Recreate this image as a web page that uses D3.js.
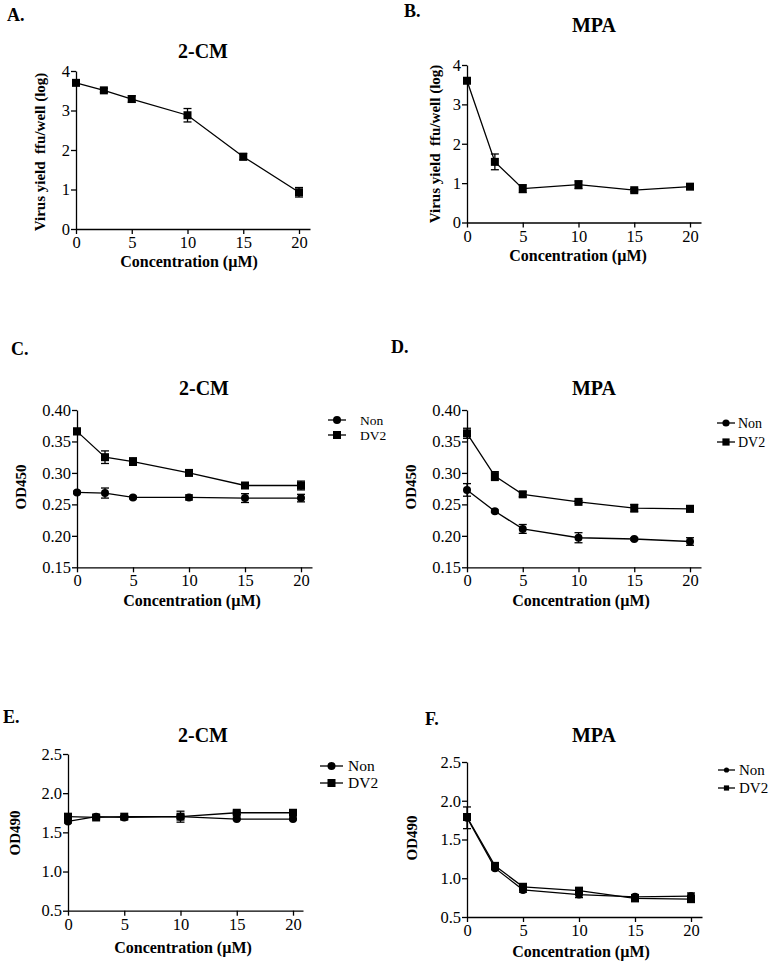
<!DOCTYPE html>
<html><head><meta charset="utf-8">
<script src="https://cdn.jsdelivr.net/npm/d3@7/dist/d3.min.js"></script>
<style>body{margin:0;background:#fff}svg{display:block}text{font-family:"Liberation Serif","Times New Roman",serif;fill:#000}</style>
</head><body><div id="chart"></div>
<script>
// ---------- data ----------
const conc = [0, 2.5, 5, 10, 15, 20];
const xTicks = [0, 5, 10, 15, 20];
const seriesNames = ["Non", "DV2"];

// A. 2-CM virus yield
const yieldCM = [3.70, 3.51, 3.29, 2.88, 1.83, 0.93];
const yieldCMErr = [0.05, 0.05, 0.08, 0.17, 0.08, 0.12];
// B. MPA virus yield
const yieldMPA = [3.60, 1.54, 0.86, 0.96, 0.82, 0.91];
const yieldMPAErr = [0.04, 0.20, 0.10, 0.10, 0.04, 0.05];
const yieldTicks = [0, 1, 2, 3, 4];

// C. 2-CM OD450
const od450CMNon = [0.269, 0.268, 0.261, 0.261, 0.260, 0.260];
const od450CMNonErr = [0.002, 0.008, 0.002, 0.004, 0.007, 0.006];
const od450CMDV2 = [0.366, 0.325, 0.318, 0.300, 0.280, 0.280];
const od450CMDV2Err = [0.005, 0.010, 0.006, 0.002, 0.003, 0.007];
// D. MPA OD450
const od450MPANon = [0.273, 0.239, 0.211, 0.197, 0.195, 0.191];
const od450MPANonErr = [0.010, 0.002, 0.007, 0.008, 0.002, 0.006];
const od450MPADV2 = [0.363, 0.295, 0.266, 0.254, 0.244, 0.243];
const od450MPADV2Err = [0.008, 0.007, 0.004, 0.002, 0.006, 0.005];
const od450Ticks = [0.15, 0.20, 0.25, 0.30, 0.35, 0.40];

// E. 2-CM OD490
const od490CMNon = [1.64, 1.70, 1.69, 1.70, 1.67, 1.67];
const od490CMNonErr = [0.02, 0.02, 0.02, 0.02, 0.01, 0.01];
const od490CMDV2 = [1.70, 1.69, 1.70, 1.70, 1.75, 1.75];
const od490CMDV2Err = [0.03, 0.02, 0.01, 0.07, 0.02, 0.02];
// F. MPA OD490
const od490MPANon = [1.78, 1.13, 0.85, 0.79, 0.76, 0.77];
const od490MPANonErr = [0.14, 0.02, 0.03, 0.04, 0.03, 0.04];
const od490MPADV2 = [1.79, 1.16, 0.89, 0.84, 0.74, 0.73];
const od490MPADV2Err = [0.04, 0.03, 0.02, 0.02, 0.02, 0.02];
const od490Ticks = [0.5, 1.0, 1.5, 2.0, 2.5];

const W = 777, H = 966;
const svg = d3.select("#chart").append("svg").attr("width", W).attr("height", H);

const panels = [
  {letter:"A.", lx:7, ly:21, title:"2-CM", tx:203, ty:58,
   x0:76, x20:299, xEnd:310, yTop:71, yBot:229, yDomain:[0,4], yTicks:yieldTicks, fmt:d3.format("d"),
   yLabel:"Virus yield  ffu/well (log)", ylx:45, yly:152, xlx:189, xly:267,
   series:[{v:yieldCM, e:yieldCMErr, shape:"square"}], legend:null},
  {letter:"B.", lx:404, ly:17, title:"MPA", tx:594, ty:32,
   x0:467, x20:690, xEnd:701, yTop:65, yBot:222.5, yDomain:[0,4], yTicks:yieldTicks, fmt:d3.format("d"),
   yLabel:"Virus yield  ffu/well (log)", ylx:440, yly:144, xlx:578, xly:261,
   series:[{v:yieldMPA, e:yieldMPAErr, shape:"square"}], legend:null},
  {letter:"C.", lx:11, ly:355, title:"2-CM", tx:204, ty:395,
   x0:77, x20:301, xEnd:312, yTop:410, yBot:567.3, yDomain:[0.15,0.40], yTicks:od450Ticks, fmt:d3.format(".2f"),
   yLabel:"OD450", ylx:26, yly:487, xlx:192, xly:606,
   series:[{v:od450CMNon, e:od450CMNonErr, shape:"circle", name:seriesNames[0]},
           {v:od450CMDV2, e:od450CMDV2Err, shape:"square", name:seriesNames[1]}],
   legend:{x1:328, x2:346, tx:360, y:[420, 435], ms:1, fs:13.5}},
  {letter:"D.", lx:391, ly:353, title:"MPA", tx:594, ty:395,
   x0:467, x20:690, xEnd:701, yTop:410, yBot:567.3, yDomain:[0.15,0.40], yTicks:od450Ticks, fmt:d3.format(".2f"),
   yLabel:"OD450", ylx:416, yly:487, xlx:581, xly:606,
   series:[{v:od450MPANon, e:od450MPANonErr, shape:"circle", name:seriesNames[0]},
           {v:od450MPADV2, e:od450MPADV2Err, shape:"square", name:seriesNames[1]}],
   legend:{x1:717, x2:735, tx:738, y:[423, 442], ms:0.9, fs:14}},
  {letter:"E.", lx:3, ly:723, title:"2-CM", tx:203, ty:742,
   x0:68, x20:293, xEnd:303, yTop:754, yBot:910.7, yDomain:[0.5,2.5], yTicks:od490Ticks, fmt:d3.format(".1f"),
   yLabel:"OD490", ylx:20, yly:833, xlx:183, xly:953,
   series:[{v:od490CMNon, e:od490CMNonErr, shape:"circle", name:seriesNames[0]},
           {v:od490CMDV2, e:od490CMDV2Err, shape:"square", name:seriesNames[1]}],
   legend:{x1:320, x2:343, tx:348, y:[766, 783], ms:1, fs:15.5}},
  {letter:"F.", lx:425, ly:725, title:"MPA", tx:594, ty:742,
   x0:467, x20:691, xEnd:702, yTop:762, yBot:917, yDomain:[0.5,2.5], yTicks:od490Ticks, fmt:d3.format(".1f"),
   yLabel:"OD490", ylx:417, yly:838, xlx:581, xly:957,
   series:[{v:od490MPANon, e:od490MPANonErr, shape:"circle", name:seriesNames[0]},
           {v:od490MPADV2, e:od490MPADV2Err, shape:"square", name:seriesNames[1]}],
   legend:{x1:718, x2:735, tx:739, y:[770, 788], ms:0.65, fs:15}}
];

function marker(g, shape, cx, cy, s) {
  if (shape === "square") {
    g.append("rect").attr("x", cx - 4*s).attr("y", cy - 4*s).attr("width", 8*s).attr("height", 8*s).attr("fill", "#000");
  } else {
    g.append("circle").attr("cx", cx).attr("cy", cy).attr("r", 4*s).attr("fill", "#000");
  }
}

panels.forEach(p => {
  const g = svg.append("g");
  const xMax = 20 * (p.xEnd - p.x0) / (p.x20 - p.x0);
  const x = d3.scaleLinear().domain([0, xMax]).range([p.x0, p.xEnd]);
  const y = d3.scaleLinear().domain(p.yDomain).range([p.yBot, p.yTop]);

  g.append("text").attr("x", p.lx).attr("y", p.ly).attr("font-size", 18).attr("font-weight", "bold").text(p.letter);
  g.append("text").attr("x", p.tx).attr("y", p.ty).attr("text-anchor", "middle").attr("font-size", 20).attr("font-weight", "bold").text(p.title);

  const xa = g.append("g").attr("transform", `translate(0,${p.yBot})`)
    .call(d3.axisBottom(x).tickValues(xTicks).tickSize(5).tickSizeOuter(0).tickFormat(d3.format("d")));
  const ya = g.append("g").attr("transform", `translate(${p.x0},0)`)
    .call(d3.axisLeft(y).tickValues(p.yTicks).tickSize(5).tickSizeOuter(0).tickPadding(1).tickFormat(p.fmt));
  [xa, ya].forEach(a => {
    a.attr("font-family", null).attr("font-size", null);
    a.selectAll("path,line").attr("stroke", "#000").attr("stroke-width", 1.3);
    a.selectAll("text").attr("font-family", "Liberation Serif, serif").attr("font-size", 16.5).attr("fill", "#000");
  });
  xa.selectAll("text").attr("y", 19).attr("dy", 0);

  g.append("text").attr("transform", `translate(${p.ylx},${p.yly}) rotate(-90)`).attr("text-anchor", "middle")
    .attr("font-size", 15).attr("font-weight", "bold").style("white-space", "pre").text(p.yLabel);
  g.append("text").attr("x", p.xlx).attr("y", p.xly).attr("text-anchor", "middle")
    .attr("font-size", 16).attr("font-weight", "bold").text("Concentration (\u00b5M)");

  const line = d3.line().x((d, i) => x(conc[i])).y(d => y(d));
  p.series.forEach(s => {
    g.append("path").datum(s.v).attr("d", line).attr("fill", "none").attr("stroke", "#000").attr("stroke-width", 1.3);
    s.v.forEach((v, i) => {
      const cx = x(conc[i]);
      const yt = y(v + s.e[i]), yb = y(v - s.e[i]);
      g.append("line").attr("x1", cx).attr("x2", cx).attr("y1", yt).attr("y2", yb).attr("stroke", "#000").attr("stroke-width", 1.3);
      [yt, yb].forEach(yy => g.append("line").attr("x1", cx - 4).attr("x2", cx + 4).attr("y1", yy).attr("y2", yy).attr("stroke", "#000").attr("stroke-width", 1.3));
      marker(g, s.shape, cx, y(v), 1);
    });
  });

  if (p.legend) {
    p.series.forEach((s, i) => {
      const ly = p.legend.y[i];
      g.append("line").attr("x1", p.legend.x1).attr("x2", p.legend.x2).attr("y1", ly).attr("y2", ly).attr("stroke", "#000").attr("stroke-width", 1.3);
      marker(g, s.shape, (p.legend.x1 + p.legend.x2) / 2, ly, p.legend.ms);
      g.append("text").attr("x", p.legend.tx).attr("y", ly).attr("dy", "0.35em").attr("font-size", p.legend.fs).text(s.name);
    });
  }
});
</script></body></html>
